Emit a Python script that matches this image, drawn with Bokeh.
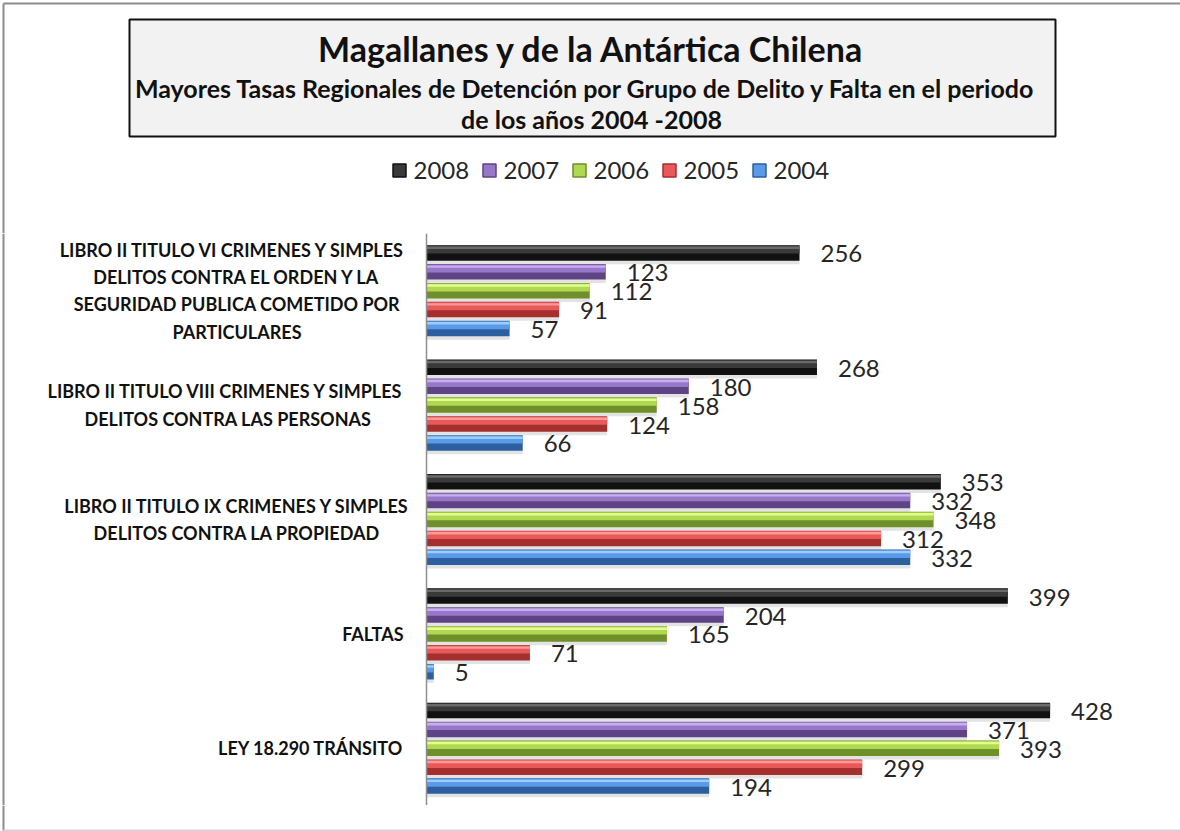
from bokeh.plotting import figure
from bokeh.models import ColumnDataSource, Range1d, FactorRange, Span
from bokeh.transform import dodge
from bokeh.layouts import column
from bokeh.core.properties import value
from bokeh.embed import file_html
from bokeh.resources import INLINE

# ---------------- data ----------------
title_main = "Magallanes y de la Antártica Chilena"
subtitle_1 = "Mayores Tasas  Regionales de Detención por Grupo de Delito y Falta  en el periodo"
subtitle_2 = "de los años 2004 -2008"

categories = [
    "LIBRO II  TITULO VI  CRIMENES Y SIMPLES\nDELITOS CONTRA EL ORDEN Y LA\nSEGURIDAD PUBLICA COMETIDO POR\nPARTICULARES",
    "LIBRO II  TITULO VIII CRIMENES Y SIMPLES\nDELITOS CONTRA LAS PERSONAS",
    "LIBRO II TITULO IX CRIMENES Y SIMPLES\nDELITOS CONTRA LA PROPIEDAD",
    "FALTAS",
    "LEY 18.290 TRÁNSITO",
]
years = ["2008", "2007", "2006", "2005", "2004"]
v2008 = [256, 268, 353, 399, 428]
v2007 = [123, 180, 332, 204, 371]
v2006 = [112, 158, 348, 165, 393]
v2005 = [91, 124, 312, 71, 299]
v2004 = [57, 66, 332, 5, 194]
series = {"2008": v2008, "2007": v2007, "2006": v2006, "2005": v2005, "2004": v2004}

# colours: (dark lower, main upper, highlight)
colors = {
    "2008": ("#111111", "#3a3a3a", "#6a6a6a"),
    "2007": ("#5e4485", "#9778c8", "#c8aef0"),
    "2006": ("#6f8f2a", "#b0d852", "#e2ff8c"),
    "2005": ("#a52f2f", "#e85a5a", "#ff9a9a"),
    "2004": ("#2c5f9f", "#5a9ae6", "#9ccdff"),
}

FONT = "Lato"
W = 1180
TOP_H = 233
FRAME_H = 572
BOT_H = FRAME_H
FOOT_H = 831 - TOP_H - BOT_H
AXIS_X = 426          # px of the value axis
PX = 1.457            # px per unit of value
UNIT = FRAME_H / len(categories)   # px per category
BORDER = "#8c8c8c"

def u(px):
    return px / UNIT

def blank(fig):
    fig.grid.visible = False
    fig.outline_line_color = None
    fig.background_fill_color = "white"
    fig.border_fill_color = "white"

# ---------------- top figure: title box and legend ----------------
top = figure(width=W, height=TOP_H, x_range=Range1d(0, W), y_range=Range1d(TOP_H, 0),
             toolbar_location=None, output_backend="svg", x_axis_type=None, y_axis_type=None,
             min_border=0)
blank(top)

# outer chart border (top and left)
top.segment(x0=[3, 3], y0=[3, 3], x1=[W, 3], y1=[3, TOP_H], line_color=BORDER, line_width=2)

# title box
top.quad(left=[129], right=[1055], top=[19], bottom=[136], fill_color="#f2f2f2",
         line_color="#111111", line_width=2)
cx = 591
top.text(x=[cx], y=[48], text=[title_main], text_align="center", text_baseline="middle",
         text_font=value(FONT), text_font_size="34px", text_font_style="bold", text_color="#111111")
top.text(x=[cx], y=[87], text=[subtitle_1], text_align="center", text_baseline="middle",
         text_font=value(FONT), text_font_size="25px", text_font_style="bold", text_color="#111111")
top.text(x=[cx], y=[118], text=[subtitle_2], text_align="center", text_baseline="middle",
         text_font=value(FONT), text_font_size="25px", text_font_style="bold", text_color="#111111")

# legend
leg_x0, leg_step, leg_y = 399, 90, 170
leg_src = ColumnDataSource(dict(
    x=[leg_x0 + i * leg_step for i in range(len(years))],
    tx=[leg_x0 + i * leg_step + 14 for i in range(len(years))],
    y=[leg_y] * len(years),
    yr=years,
    fill=[colors[y][1] for y in years],
    line=[colors[y][0] for y in years],
))
top.scatter(x="x", y="y", source=leg_src, marker="square", size=13,
            fill_color="fill", line_color="line", line_width=1.5)
top.text(x="tx", y="y", text="yr", source=leg_src, text_baseline="middle",
         text_font=value(FONT), text_font_size="24px", text_color="#262626")

# ---------------- bottom figure: bars ----------------
y_factors = list(reversed(categories))
bot = figure(width=W, height=BOT_H,
             x_range=Range1d(-AXIS_X / PX, (W - AXIS_X) / PX),
             y_range=FactorRange(factors=y_factors, range_padding=0),
             toolbar_location=None, output_backend="svg", x_axis_type=None, y_axis_type=None,
             min_border=0)
blank(bot)

bot.add_layout(Span(location=(3 - AXIS_X) / PX, dimension="height", line_color=BORDER, line_width=2))
bot.add_layout(Span(location=0, dimension="height", line_color="#8f8f8f", line_width=1.5))

spacing = u(18.9)
bar_h = u(15.5)
for i, yr in enumerate(years):
    off = (2 - i) * spacing
    dark, main, hi = colors[yr]
    src = ColumnDataSource(dict(cat=categories, val=series[yr], lab=[str(v) for v in series[yr]]))
    # shadow
    bot.hbar(y=dodge("cat", off - u(3.5), range=bot.y_range), left=0, right="val", height=bar_h,
             source=src, fill_color="#000000", fill_alpha=0.11, line_color=None)
    bot.hbar(y=dodge("cat", off, range=bot.y_range), left=0, right="val", height=bar_h,
             source=src, fill_color=dark, line_color=None)
    bot.hbar(y=dodge("cat", off + u(3.3), range=bot.y_range), left=0, right="val", height=u(8),
             source=src, fill_color=main, line_color=None)
    bot.hbar(y=dodge("cat", off + u(5.2), range=bot.y_range), left=0, right="val", height=u(2.4),
             source=src, fill_color=hi, line_color=None)
    bot.text(x="val", y=dodge("cat", off, range=bot.y_range), text="lab", source=src,
             x_offset=21, y_offset=1, text_baseline="middle",
             text_font=value(FONT), text_font_size="24px", text_color="#262626")

# category labels: right-aligned blocks with centred lines
LAB_GAP = 23
CHAR_W = 9.0
multi = [c for c in categories if "\n" in c]
single = [c for c in categories if "\n" not in c]
def est_w(c):
    return max(len(" ".join(s.split())) for s in c.split("\n")) * CHAR_W
mx = [-(LAB_GAP + est_w(c) / 2) / PX for c in multi]
bot.text(x=mx, y=multi, text=multi, text_align="center", text_baseline="middle",
         text_line_height=1.24, text_font=value(FONT), text_font_size="18px",
         text_font_style="bold", text_color="#111111")
bot.text(x=[-LAB_GAP / PX] * len(single), y=single, text=single, text_align="right",
         text_baseline="middle", text_font=value(FONT), text_font_size="18px",
         text_font_style="bold", text_color="#111111")

# ---------------- foot: rest of the outer border ----------------
foot = figure(width=W, height=FOOT_H, x_range=Range1d(0, W), y_range=Range1d(FOOT_H, 0),
              toolbar_location=None, output_backend="svg", x_axis_type=None, y_axis_type=None,
              min_border=0)
blank(foot)
foot.segment(x0=[3], y0=[0], x1=[3], y1=[FOOT_H - 1], line_color=BORDER, line_width=2)
foot.segment(x0=[3], y0=[FOOT_H - 1], x1=[W], y1=[FOOT_H - 1], line_color="#d4d4d4", line_width=2)

layout = column(top, bot, foot, spacing=0)
open("out.html", "w").write(file_html(layout, INLINE))
